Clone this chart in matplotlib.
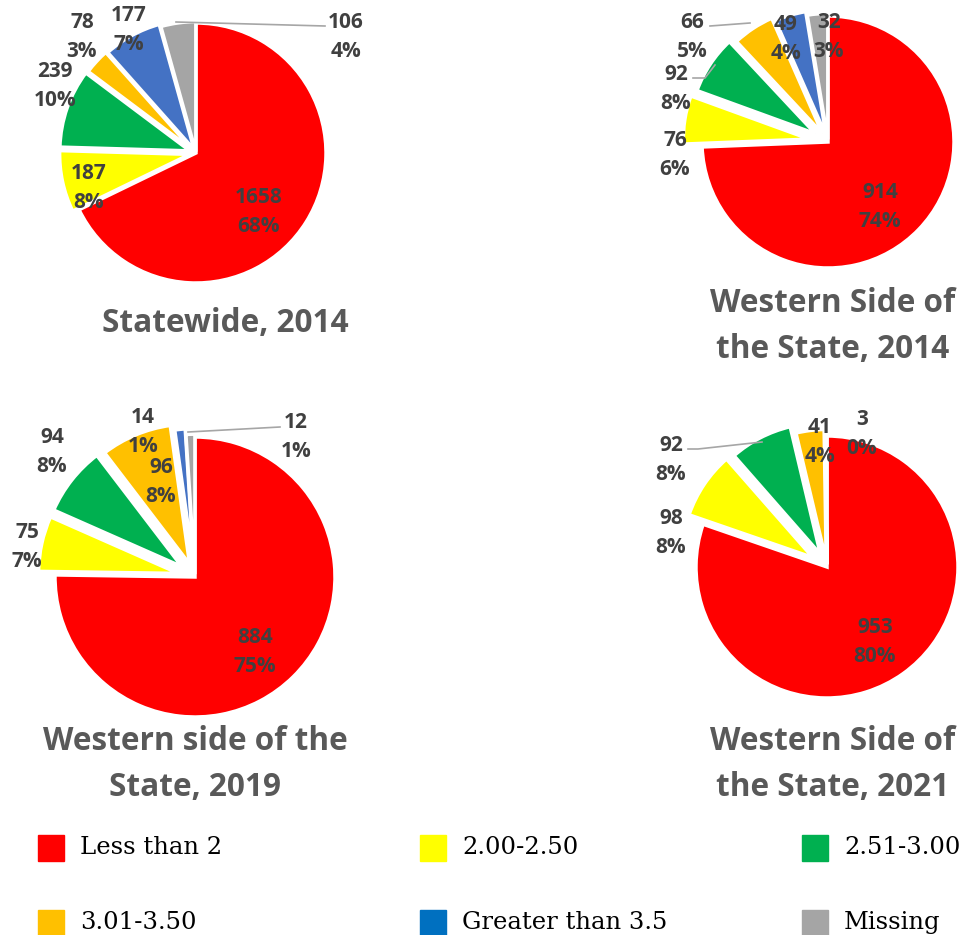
import matplotlib.pyplot as plt
from matplotlib.patches import Rectangle

W, H = 969, 935

categories = ["Less than 2", "2.00-2.50", "2.51-3.00", "3.01-3.50",
              "Greater than 3.5", "Missing"]
pie_colors = ["#FF0000", "#FFFF00", "#00B050", "#FFC000", "#4472C4", "#A5A5A5"]
legend_colors = ["#FF0000", "#FFFF00", "#00B050", "#FFC000", "#0070C0", "#A5A5A5"]

titles = ["Statewide, 2014",
          "Western Side of\nthe State, 2014",
          "Western side of the\nState, 2019",
          "Western Side of\nthe State, 2021"]

statewide_2014 = [1658, 187, 239, 78, 177, 106]
western_2014 = [914, 76, 92, 66, 49, 32]
western_2019 = [884, 75, 94, 96, 14, 12]
western_2021 = [953, 98, 92, 41, 0, 3]

pct_statewide_2014 = ["68%", "8%", "10%", "3%", "7%", "4%"]
pct_western_2014 = ["74%", "6%", "8%", "5%", "4%", "3%"]
pct_western_2019 = ["75%", "7%", "8%", "8%", "1%", "1%"]
pct_western_2021 = ["80%", "8%", "8%", "4%", "", "0%"]

series = [statewide_2014, western_2014, western_2019, western_2021]
pcts = [pct_statewide_2014, pct_western_2014, pct_western_2019, pct_western_2021]

# layout in pixels (y down): pie centre, radius, per-slice explode, title baseline
pie_layout = [
    dict(c=(196, 153), r=130, ex=[0, 0.05, 0.05, 0.04, 0.03, 0.01], t=(225, 332)),
    dict(c=(828, 142), r=126, ex=[0, 0.15, 0.12, 0.08, 0.05, 0.02], t=(833, 312)),
    dict(c=(195, 577), r=140, ex=[0, 0.12, 0.12, 0.10, 0.06, 0.02], t=(195, 750)),
    dict(c=(827, 567), r=131, ex=[0, 0.13, 0.11, 0.05, 0, 0.02], t=(833, 750)),
]
# data label centres (pixels)
label_pos = [
    [(259, 210), (89, 186), (55, 84), (82, 35), (129, 28), (346, 35)],
    [(880, 205), (675, 153), (676, 87), (692, 35), (786, 37), (829, 35)],
    [(255, 650), (27, 545), (52, 450), (161, 480), (143, 430), (296, 435)],
    [(875, 640), (671, 531), (671, 458), (820, 440), None, (862, 432)],
]
leader_lines = [
    [[(176, 22), (325, 26)]],
    [[(693, 78), (705, 78), (715, 65)], [(710, 26), (750, 23)]],
    [[(188, 432), (280, 427)]],
    [[(688, 449), (698, 449), (762, 442)]],
]

fig = plt.figure(figsize=(W / 100, H / 100), dpi=100)

for vals, lay in zip(series, pie_layout):
    cx, cy = lay["c"]
    h = 1.5 * lay["r"]
    ax = fig.add_axes([(cx - h) / W, (H - cy - h) / H, 2 * h / W, 2 * h / H])
    keep = [i for i, v in enumerate(vals) if v > 0]
    ax.pie([vals[i] for i in keep],
           colors=[pie_colors[i] for i in keep],
           explode=[lay["ex"][i] for i in keep],
           startangle=90, counterclock=False, radius=1,
           wedgeprops=dict(edgecolor="white", linewidth=2.5))
    ax.set_xlim(-1.5, 1.5)
    ax.set_ylim(-1.5, 1.5)
    ax.axis("off")

# overlay in pixel coordinates for texts, leader lines and legend
ov = fig.add_axes([0, 0, 1, 1], zorder=5)
ov.set_xlim(0, W)
ov.set_ylim(H, 0)
ov.axis("off")
ov.patch.set_alpha(0)

lab_font = dict(family="Open Sans", weight="bold", fontsize=15, color="#404040",
                ha="center", va="baseline")
for vals, pc, pos, lines in zip(series, pcts, label_pos, leader_lines):
    for ln in lines:
        ov.plot([p[0] for p in ln], [p[1] for p in ln], color="#A6A6A6", lw=1.2)
    for v, p, xy in zip(vals, pc, pos):
        if xy is None:
            continue
        ov.text(xy[0], xy[1] - 7, str(v), **lab_font)
        ov.text(xy[0], xy[1] + 22, p, **lab_font)

for title, lay in zip(titles, pie_layout):
    for j, line in enumerate(title.split("\n")):
        ov.text(lay["t"][0], lay["t"][1] + 46 * j, line, ha="center",
                va="baseline", family="Open Sans", weight="bold",
                fontsize=22.7, color="#595959")

leg_x = [38, 420, 802]
leg_y = [854, 929]
for k, (name, col) in enumerate(zip(categories, legend_colors)):
    x = leg_x[k % 3]
    y = leg_y[k // 3]
    ov.add_patch(Rectangle((x, y - 19), 26, 26, color=col))
    ov.text(x + 42, y, name, ha="left", va="baseline", family="DejaVu Serif",
            fontsize=17.5, color="black")

fig.savefig("out.png", dpi=100)
